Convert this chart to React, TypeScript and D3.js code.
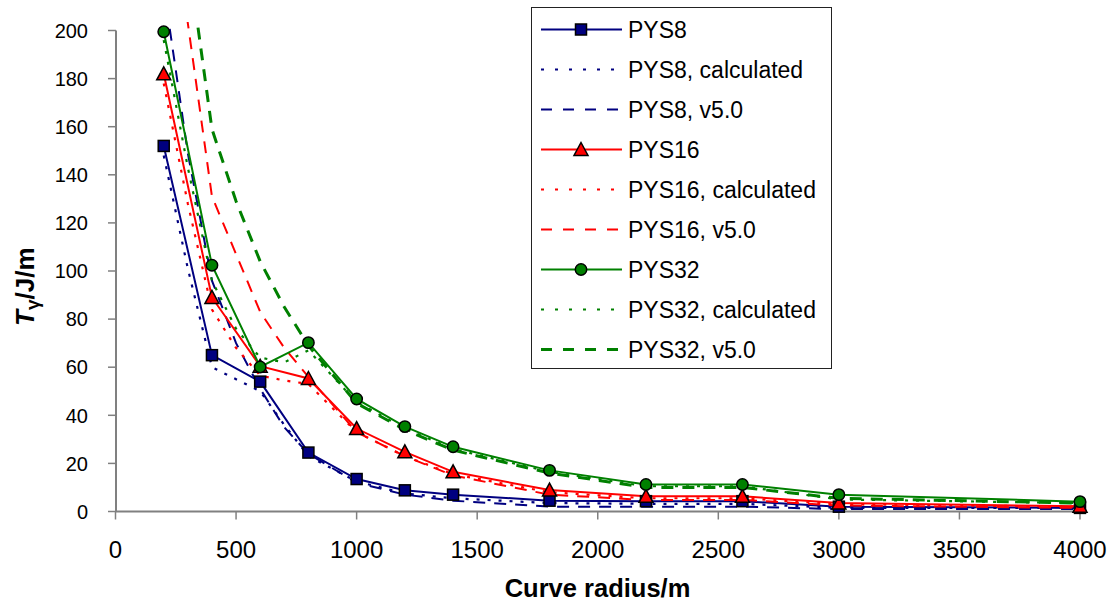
import React from "react";
import * as d3 from "d3";

// ---- Data ----
const radii = [200, 400, 600, 800, 1000, 1200, 1400, 1800, 2200, 2600, 3000, 4000];
const pys8 = [152, 65, 54, 24.5, 13.5, 8.8, 7, 4.5, 4.3, 4.3, 2, 1.5];
const pys16 = [182, 89, 60.4, 55.3, 34.5, 24.8, 16.5, 8.9, 6.3, 6.3, 3.5, 2.2];
const pys32 = [199.5, 102.4, 60.1, 70.2, 46.8, 35.3, 26.9, 17.1, 11.2, 11.2, 7, 4.1];

const radiiModel = [200, 300, 400, 500, 600, 700, 800, 1000, 1200, 1400, 1800, 2200, 2600, 3000, 4000];
const pys8Calc = [148, 101, 60, 55, 50, 36, 23, 12.5, 7.5, 5.5, 3.5, 3.2, 3.2, 1.5, 1.5];
const pys16Calc = [178, 128, 84, 68, 56.5, 54.5, 53, 33, 23, 15.5, 8, 5.5, 5.5, 3, 2];
const pys32Calc = [196, 143, 96, 76, 64, 62, 67, 45.5, 34.5, 26, 16.5, 10.5, 10.5, 5, 3.5];
const pys8V5 = [218, 149, 96, 70, 51, 35, 24, 12, 7, 4.5, 2, 2, 2, 1, 1];
const pys16V5 = [275, 203, 131, 107, 83, 68, 56, 33, 23, 15, 7, 4.8, 4.8, 2.5, 1.5];
const pys32V5 = [305, 232, 159, 129, 104, 85, 69, 45, 34, 25.5, 16, 10, 10, 5.5, 3.5];

const xTicks = [0, 500, 1000, 1500, 2000, 2500, 3000, 3500, 4000];
const yTicks = [0, 20, 40, 60, 80, 100, 120, 140, 160, 180, 200];

const NAVY = "#000080";
const RED = "#FF0000";
const GREEN = "#008000";

type Series = {
  name: string;
  xs: number[];
  ys: number[];
  color: string;
  dash: string | null;
  width: number;
  marker: "square" | "triangle" | "circle" | null;
};

const series: Series[] = [
  { name: "PYS8", xs: radii, ys: pys8, color: NAVY, dash: null, width: 2, marker: "square" },
  { name: "PYS8, calculated", xs: radiiModel, ys: pys8Calc, color: NAVY, dash: "3,8", width: 2.2, marker: null },
  { name: "PYS8, v5.0", xs: radiiModel, ys: pys8V5, color: NAVY, dash: "12,9", width: 2, marker: null },
  { name: "PYS16", xs: radii, ys: pys16, color: RED, dash: null, width: 2, marker: "triangle" },
  { name: "PYS16, calculated", xs: radiiModel, ys: pys16Calc, color: RED, dash: "3,8", width: 2.2, marker: null },
  { name: "PYS16, v5.0", xs: radiiModel, ys: pys16V5, color: RED, dash: "12,9", width: 2, marker: null },
  { name: "PYS32", xs: radii, ys: pys32, color: GREEN, dash: null, width: 2, marker: "circle" },
  { name: "PYS32, calculated", xs: radiiModel, ys: pys32Calc, color: GREEN, dash: "3,8", width: 2.2, marker: null },
  { name: "PYS32, v5.0", xs: radiiModel, ys: pys32V5, color: GREEN, dash: "12,9", width: 3, marker: null },
];

const W = 1111;
const H = 601;
const x = d3.scaleLinear().domain([0, 4000]).range([115.5, 1080]);
const y = d3.scaleLinear().domain([0, 200]).range([511.5, 30.5]);

const FONT = "'Liberation Sans', Arial, sans-serif";
const AXIS = "#808080";

function Marker({ type, cx, cy, color }: { type: string; cx: number; cy: number; color: string }) {
  if (type === "square") {
    return <rect x={cx - 5.5} y={cy - 5.5} width={11} height={11} fill={color} stroke="#000" strokeWidth={1.5} />;
  }
  if (type === "triangle") {
    const h = 12;
    const s = 14;
    const p = `${cx},${cy - h / 2 - 1} ${cx + s / 2},${cy + h / 2} ${cx - s / 2},${cy + h / 2}`;
    return <polygon points={p} fill={color} stroke="#000" strokeWidth={1.5} strokeLinejoin="miter" />;
  }
  return <circle cx={cx} cy={cy} r={5.7} fill={color} stroke="#000" strokeWidth={1.5} />;
}

export default function App() {
  const line = d3
    .line<[number, number]>()
    .x((d) => x(d[0]))
    .y((d) => y(d[1]));

  const legendX = 531.5;
  const legendY = 7.5;
  const rowY = (i: number) => 29.5 + 40 * i;

  return (
    <svg
      width={W}
      height={H}
      style={{ position: "absolute", left: 0, top: 0, background: "#fff" }}
      fontFamily={FONT}
    >
      <defs>
        <clipPath id="plot">
          <rect x={115.5} y={22} width={985} height={492} />
        </clipPath>
      </defs>
      <rect x={0} y={0} width={W} height={H} fill="#fff" />

      {/* axes */}
      <line x1={116} x2={116} y1={y(200)} y2={y(0)} stroke={AXIS} strokeWidth={2} />
      <line x1={116} x2={x(4000)} y1={y(0)} y2={y(0)} stroke={AXIS} strokeWidth={2} />
      {yTicks.map((t) => (
        <g key={"y" + t}>
          <line x1={108} x2={116} y1={y(t)} y2={y(t)} stroke={AXIS} strokeWidth={1.5} />
          <text x={88} y={y(t)} dy="0.36em" textAnchor="end" fontSize={20} fill="#000">
            {t}
          </text>
        </g>
      ))}
      {xTicks.map((t) => (
        <g key={"x" + t}>
          <line x1={x(t)} x2={x(t)} y1={y(0)} y2={y(0) + 8} stroke={AXIS} strokeWidth={1.5} />
          <text x={x(t)} y={549} dy="0.36em" textAnchor="middle" fontSize={24} fill="#000">
            {t}
          </text>
        </g>
      ))}

      {/* axis titles */}
      <text x={597.5} y={596.5} textAnchor="middle" fontSize={25.5} fontWeight="bold" fill="#000">
        Curve radius/m
      </text>
      <text transform="translate(33.5,326) rotate(-90)" fontSize={26} fontWeight="bold" fill="#000">
        <tspan fontStyle="italic">T</tspan>
        <tspan fontSize={19} dy={5}>γ</tspan>
        <tspan dy={-5}>/J/m</tspan>
      </text>

      {/* series lines */}
      <g clipPath="url(#plot)">
        {series.map((s) => (
          <path
            key={s.name}
            d={line(s.xs.map((v, i) => [v, s.ys[i]] as [number, number])) || ""}
            fill="none"
            stroke={s.color}
            strokeWidth={s.width}
            strokeDasharray={s.dash || undefined}
          />
        ))}
      </g>
      {/* markers */}
      <g>
        {series
          .filter((s) => s.marker)
          .map((s) =>
            s.xs.map((v, i) => (
              <Marker key={s.name + i} type={s.marker as string} cx={x(v)} cy={y(s.ys[i])} color={s.color} />
            ))
          )}
      </g>

      {/* legend */}
      <rect x={legendX} y={legendY} width={300} height={361} fill="#fff" stroke="#222" strokeWidth={1} />
      {series.map((s, i) => (
        <g key={"lg" + s.name}>
          <line
            x1={541}
            x2={622}
            y1={rowY(i)}
            y2={rowY(i)}
            stroke={s.color}
            strokeWidth={s.width}
            strokeDasharray={s.dash ? (s.dash === "3,8" ? "3,11" : "11,11") : undefined}
          />
          {s.marker && <Marker type={s.marker} cx={581} cy={rowY(i)} color={s.color} />}
          <text x={628} y={rowY(i)} dy="0.36em" fontSize={23} fill="#000">
            {s.name}
          </text>
        </g>
      ))}
    </svg>
  );
}
